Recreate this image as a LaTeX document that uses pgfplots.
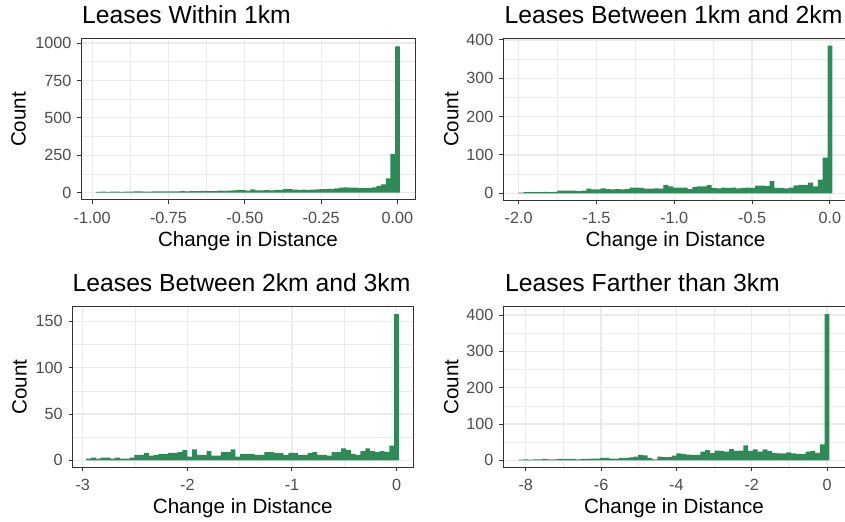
\documentclass[border=0pt]{standalone}
\usepackage{fontspec}
\setmainfont{Liberation Sans}
\usepackage{pgfplots}
\usepackage{pgfplotstable}
\pgfplotsset{compat=1.18}

\definecolor{barfill}{HTML}{2E8B57}
\definecolor{gridcol}{HTML}{EBEBEB}
\definecolor{framecol}{HTML}{333333}
\definecolor{tickcol}{HTML}{4D4D4D}

% histogram bins: left edge, count (last row closes the final bin)
\pgfplotstableread{
x y
-0.98685 6
-0.97155 7
-0.95625 6
-0.94095 7
-0.92565 7
-0.91035 6
-0.89505 7
-0.87975 7
-0.86445 8
-0.84915 8
-0.83385 7
-0.81855 7
-0.80325 8
-0.78795 8
-0.77265 9
-0.75735 8
-0.74205 9
-0.72675 8
-0.71145 10
-0.69615 9
-0.68085 10
-0.66555 11
-0.65025 10
-0.63495 12
-0.61965 11
-0.60435 11
-0.58905 13
-0.57375 12
-0.55845 14
-0.54315 15
-0.52785 19
-0.51255 17
-0.49725 14
-0.48195 22
-0.46665 16
-0.45135 15
-0.43605 17
-0.42075 16
-0.40545 18
-0.39015 19
-0.37485 26
-0.35955 24
-0.34425 20
-0.32895 18
-0.31365 21
-0.29835 19
-0.28305 20
-0.26775 22
-0.25245 24
-0.23715 25
-0.22185 26
-0.20655 28
-0.19125 34
-0.17595 35
-0.16065 33
-0.14535 34
-0.13005 30
-0.11475 31
-0.09945 32
-0.08415 36
-0.06885 45
-0.05355 55
-0.03825 95
-0.02295 260
-0.00765 978
0.00765 978
}\within

\pgfplotstableread{
x y
-1.9995 2
-1.9685 3
-1.9375 3
-1.9065 3
-1.8755 3
-1.8445 4
-1.8135 3
-1.7825 4
-1.7515 7
-1.7205 7
-1.6895 7
-1.6585 7
-1.6275 6
-1.5965 7
-1.5655 12
-1.5345 10
-1.5035 10
-1.4725 13
-1.4415 11
-1.4105 10
-1.3795 11
-1.3485 10
-1.3175 11
-1.2865 15
-1.2555 15
-1.2245 14
-1.1935 12
-1.1625 12
-1.1315 13
-1.1005 12
-1.0695 22
-1.0385 18
-1.0075 15
-0.9765 15
-0.9455 15
-0.9145 11
-0.8835 17
-0.8525 18
-0.8215 18
-0.7905 22
-0.7595 14
-0.7285 13
-0.6975 15
-0.6665 14
-0.6355 15
-0.6045 13
-0.5735 14
-0.5425 15
-0.5115 14
-0.4805 20
-0.4495 20
-0.4185 19
-0.3875 32
-0.3565 14
-0.3255 14
-0.2945 13
-0.2635 15
-0.2325 21
-0.2015 22
-0.1705 22
-0.1395 28
-0.1085 18
-0.0775 36
-0.0465 93
-0.0155 385
0.0155 385
}\onetotwo

\pgfplotstableread{
x y
-2.967 2
-2.921 3
-2.875 2
-2.829 3
-2.783 3
-2.737 2
-2.691 3
-2.645 2
-2.599 2
-2.553 3
-2.507 6
-2.461 6
-2.415 8
-2.369 5
-2.323 6
-2.277 7
-2.231 7
-2.185 8
-2.139 8
-2.093 9
-2.047 11
-2.001 4
-1.955 12
-1.909 6
-1.863 6
-1.817 10
-1.771 5
-1.725 5
-1.679 9
-1.633 9
-1.587 12
-1.541 4
-1.495 7
-1.449 7
-1.403 7
-1.357 6
-1.311 6
-1.265 9
-1.219 9
-1.173 8
-1.127 8
-1.081 6
-1.035 8
-0.989 8
-0.943 6
-0.897 6
-0.851 8
-0.805 9
-0.759 6
-0.713 6
-0.667 5
-0.621 9
-0.575 9
-0.529 13
-0.483 11
-0.437 7
-0.391 6
-0.345 10
-0.299 13
-0.253 10
-0.207 9
-0.161 10
-0.115 9
-0.069 16
-0.023 158
0.023 158
}\twotothree

\pgfplotstableread{
x y
-8.1915 2
-8.0645 3
-7.9375 2
-7.8105 3
-7.6835 3
-7.5565 4
-7.4295 3
-7.3025 3
-7.1755 4
-7.0485 4
-6.9215 4
-6.7945 4
-6.6675 3
-6.5405 4
-6.4135 4
-6.2865 5
-6.1595 5
-6.0325 7
-5.9055 7
-5.7785 5
-5.6515 5
-5.5245 7
-5.3975 7
-5.2705 8
-5.1435 10
-5.0165 15
-4.8895 14
-4.7625 7
-4.6355 3
-4.5085 10
-4.3815 9
-4.2545 9
-4.1275 13
-4.0005 19
-3.8735 17
-3.7465 16
-3.6195 15
-3.4925 15
-3.3655 24
-3.2385 28
-3.1115 21
-2.9845 27
-2.8575 26
-2.7305 24
-2.6035 31
-2.4765 26
-2.3495 27
-2.2225 41
-2.0955 26
-1.9685 30
-1.8415 24
-1.7145 30
-1.5875 26
-1.4605 21
-1.3335 19
-1.2065 19
-1.0795 22
-0.9525 19
-0.8255 18
-0.6985 17
-0.5715 24
-0.4445 26
-0.3175 21
-0.1905 44
-0.0635 403
0.0635 403
}\farther

\pgfplotsset{
  histpanel/.style={
    scale only axis,
    anchor=south west,
    axis line style={framecol, line width=1bp},
    tick pos=left,
    tick align=outside,
    major tick length=3.7bp,
    minor tick length=0pt,
    tick style={framecol, line width=1bp},
    grid=both,
    major grid style={gridcol, line width=1.2bp},
    minor grid style={gridcol, line width=0.6bp},
    tick label style={font=\fontsize{16.2bp}{19bp}\selectfont, text=tickcol, inner sep=0pt},
    xticklabel style={anchor=north},
    yticklabel style={anchor=east},
    xticklabel shift=8bp,
    yticklabel shift=5.8bp,
  },
  histbars/.style={ybar interval, fill=barfill, draw=none},
}

\newcommand{\titlefont}{\fontsize{24.7bp}{29bp}\selectfont}
\newcommand{\labelfont}{\fontsize{20.6bp}{24bp}\selectfont}

\begin{document}
\begin{tikzpicture}[x=1bp, y=1bp]
\useasboundingbox (0,0) rectangle (845,522);

% within 1km
\begin{axis}[histpanel, at={(81bp,322bp)}, width=334bp, height=161bp,
  xmin=-1.0366, xmax=0.0574, ymin=-48.9, ymax=1026.9,
  xtick={-1,-0.75,-0.5,-0.25,0},
  xticklabels={-1.00,-0.75,-0.50,-0.25,0.00},
  minor xtick={-0.875,-0.625,-0.375,-0.125},
  ytick={0,250,500,750,1000},
  yticklabels={0,250,500,750,1000},
  minor ytick={125,375,625,875}]
\addplot[histbars] table[x=x, y=y] {\within};
\end{axis}

% between 1km and 2km
\begin{axis}[histpanel, at={(503bp,321.3bp)}, width=345bp, height=162.4bp,
  xmin=-2.1003, xmax=0.1163, ymin=-19.25, ymax=404.25,
  xtick={-2,-1.5,-1,-0.5,0},
  xticklabels={-2.0,-1.5,-1.0,-0.5,0.0},
  minor xtick={-1.75,-1.25,-0.75,-0.25},
  ytick={0,100,200,300,400},
  yticklabels={0,100,200,300,400},
  minor ytick={50,150,250,350}]
\addplot[histbars] table[x=x, y=y] {\onetotwo};
\end{axis}

% between 2km and 3km
\begin{axis}[histpanel, at={(72.3bp,54.3bp)}, width=341bp, height=161bp,
  xmin=-3.1, xmax=0.16, ymin=-7.9, ymax=165.9,
  xtick={-3,-2,-1,0},
  xticklabels={-3,-2,-1,0},
  minor xtick={-2.5,-1.5,-0.5},
  ytick={0,50,100,150},
  yticklabels={0,50,100,150},
  minor ytick={25,75,125}]
\addplot[histbars] table[x=x, y=y] {\twotothree};
\end{axis}

% farther than 3km
\begin{axis}[histpanel, at={(503bp,54.3bp)}, width=342bp, height=161bp,
  xmin=-8.604, xmax=0.476, ymin=-20.15, ymax=423.15,
  xtick={-8,-6,-4,-2,0},
  xticklabels={-8,-6,-4,-2,0},
  minor xtick={-7,-5,-3,-1},
  ytick={0,100,200,300,400},
  yticklabels={0,100,200,300,400},
  minor ytick={50,150,250,350}]
\addplot[histbars] table[x=x, y=y] {\farther};
\end{axis}

% titles
\node[anchor=base west, inner sep=0pt] at (82,498) {\titlefont Leases Within 1km};
\node[anchor=base west, inner sep=0pt] at (504.5,498) {\titlefont Leases Between 1km and 2km};
\node[anchor=base west, inner sep=0pt] at (72.5,230.3) {\titlefont Leases Between 2km and 3km};
\node[anchor=base west, inner sep=0pt] at (505,230.3) {\titlefont Leases Farther than 3km};

% axis titles
\node[anchor=base, inner sep=0pt] at (248,275.3) {\labelfont Change in Distance};
\node[anchor=base, inner sep=0pt] at (675.5,275.3) {\labelfont Change in Distance};
\node[anchor=base, inner sep=0pt] at (242.8,8.7) {\labelfont Change in Distance};
\node[anchor=base, inner sep=0pt] at (674,8.7) {\labelfont Change in Distance};
\node[anchor=base, rotate=90, inner sep=0pt] at (25.7,402.5) {\labelfont Count};
\node[anchor=base, rotate=90, inner sep=0pt] at (458.3,402.5) {\labelfont Count};
\node[anchor=base, rotate=90, inner sep=0pt] at (26.7,134.8) {\labelfont Count};
\node[anchor=base, rotate=90, inner sep=0pt] at (458.3,134.8) {\labelfont Count};
\end{tikzpicture}
\end{document}
